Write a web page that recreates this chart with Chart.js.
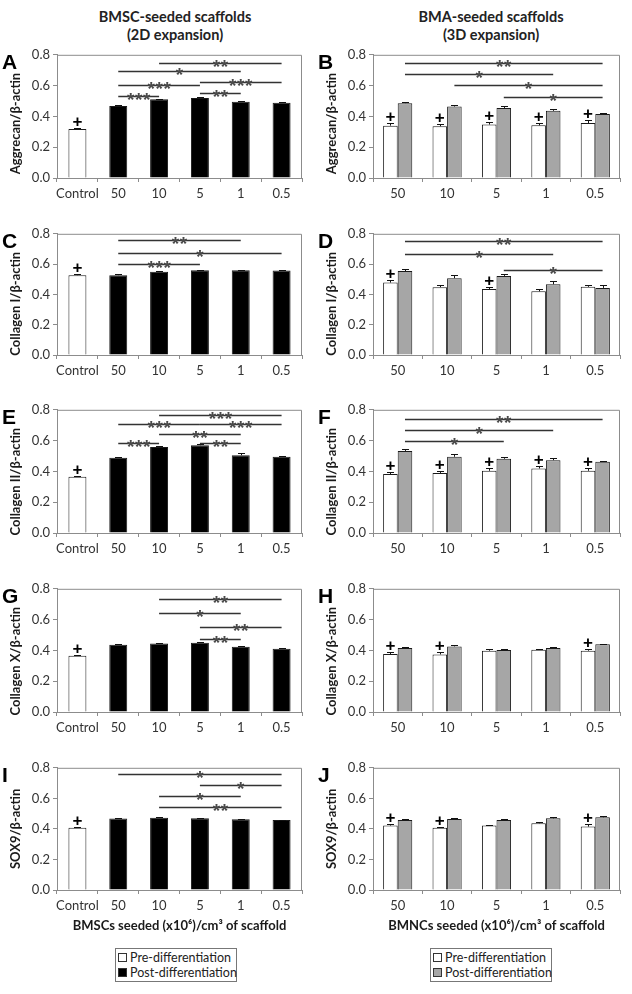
<!DOCTYPE html>
<html><head><meta charset="utf-8">
<script src="https://cdn.jsdelivr.net/npm/chart.js@4.4.0/dist/chart.umd.min.js"></script>
<style>
body{margin:0;background:#fff;width:632px;height:994px;position:relative;overflow:hidden;font-family:Lato,sans-serif;}
canvas{position:absolute;}
.ttl{position:absolute;font-weight:bold;font-size:14.5px;text-align:center;width:300px;color:#222;line-height:18px}
.lt{position:absolute;font:bold 21px "Liberation Sans",Arial,sans-serif;color:#000;line-height:21px}
.lg{position:absolute;border:1px solid #777;width:122px;height:34px;font-size:12.5px;color:#222;box-sizing:border-box}
.it{position:absolute;left:2px;white-space:nowrap;line-height:14px}
.sw{display:inline-block;width:7px;height:7px;border:1px solid #333;margin-right:3px;vertical-align:0px}
</style></head><body>
<div class="ttl" style="left:25px;top:8px">BMSC-seeded scaffolds<br>(2D expansion)</div>
<div class="ttl" style="left:341px;top:8px">BMA-seeded scaffolds<br>(3D expansion)</div>
<div class="lg" style="left:115px;top:948px"><div class="it" style="top:2px"><span class="sw" style="background:#fff"></span>Pre-differentiation</div><div class="it" style="top:17px"><span class="sw" style="background:#000"></span>Post-differentiation</div></div>
<div class="lg" style="left:430px;top:948px"><div class="it" style="top:2px"><span class="sw" style="background:#fff"></span>Pre-differentiation</div><div class="it" style="top:17px"><span class="sw" style="background:#a6a6a6"></span>Post-differentiation</div></div>
<script>
// ---------- data ----------
const catsLeft = ['Control', '50', '10', '5', '1', '0.5'];
const catsRight = ['50', '10', '5', '1', '0.5'];
const yTicks = [0, 0.2, 0.4, 0.6, 0.8];
const seriesNames = ['Pre-differentiation', 'Post-differentiation'];
const xTitleLeft = 'BMSCs seeded (x10\u2076)/cm\u00B3 of scaffold';
const xTitleRight = 'BMNCs seeded (x10\u2076)/cm\u00B3 of scaffold';

// A: Aggrecan, BMSC
const aPre = [0.318, null, null, null, null, null];
const aPreErr = [0.007, null, null, null, null, null];
const aPost = [null, 0.467, 0.512, 0.520, 0.495, 0.488];
const aPostErr = [null, 0.006, 0.003, 0.003, 0.004, 0.003];
const aPlus = [0];
const aSig = [[2, 5, 0.750, '**'], [1, 4, 0.692, '*'], [1, 3, 0.602, '***'], [3, 5, 0.624, '***'], [1, 2, 0.533, '***'], [3, 4, 0.555, '**']];
// B: Aggrecan, BMA
const bPre = [0.340, 0.336, 0.347, 0.342, 0.357];
const bPreErr = [0.018, 0.017, 0.015, 0.017, 0.018];
const bPost = [0.486, 0.464, 0.455, 0.436, 0.415];
const bPostErr = [0.007, 0.010, 0.012, 0.014, 0.010];
const bPlus = [0, 1, 2, 3, 4];
const bSig = [[0, 4, 0.749, '**'], [0, 3, 0.678, '*'], [1, 4, 0.603, '*'], [2, 4, 0.528, '*']];
// C: Collagen I, BMSC
const cPre = [0.527, null, null, null, null, null];
const cPreErr = [0.006, null, null, null, null, null];
const cPost = [null, 0.527, 0.550, 0.560, 0.560, 0.558];
const cPostErr = [null, 0.006, 0.005, 0.004, 0.004, 0.003];
const cPlus = [0];
const cSig = [[1, 4, 0.759, '**'], [1, 5, 0.676, '*'], [1, 3, 0.600, '***']];
// D: Collagen I, BMA
const dPre = [0.478, 0.448, 0.435, 0.420, 0.450];
const dPreErr = [0.015, 0.017, 0.017, 0.017, 0.011];
const dPost = [0.554, 0.507, 0.522, 0.467, 0.443];
const dPostErr = [0.013, 0.024, 0.015, 0.024, 0.020];
const dPlus = [0, 2];
const dSig = [[0, 4, 0.755, '**'], [0, 3, 0.665, '*'], [2, 4, 0.563, '*']];
// E: Collagen II, BMSC
const ePre = [0.366, null, null, null, null, null];
const ePreErr = [0.006, null, null, null, null, null];
const ePost = [null, 0.488, 0.559, 0.570, 0.505, 0.495];
const ePostErr = [null, 0.008, 0.005, 0.005, 0.012, 0.008];
const ePlus = [0];
const eSig = [[2, 5, 0.763, '***'], [1, 3, 0.705, '***'], [3, 5, 0.705, '***'], [2, 4, 0.641, '**'], [1, 2, 0.585, '***'], [3, 4, 0.585, '**']];
// F: Collagen II, BMA
const fPre = [0.383, 0.390, 0.404, 0.419, 0.404];
const fPreErr = [0.016, 0.014, 0.015, 0.015, 0.020];
const fPost = [0.533, 0.495, 0.482, 0.473, 0.462];
const fPostErr = [0.012, 0.015, 0.012, 0.012, 0.007];
const fPlus = [0, 1, 2, 3, 4];
const fSig = [[0, 4, 0.742, '**'], [0, 3, 0.671, '*'], [0, 2, 0.598, '*']];
// G: Collagen X, BMSC
const gPre = [0.366, null, null, null, null, null];
const gPreErr = [0.006, null, null, null, null, null];
const gPost = [null, 0.437, 0.445, 0.449, 0.424, 0.410];
const gPostErr = [null, 0.003, 0.003, 0.003, 0.004, 0.005];
const gPlus = [0];
const gSig = [[2, 5, 0.731, '**'], [2, 4, 0.641, '*'], [3, 5, 0.555, '**'], [3, 4, 0.473, '**']];
// H: Collagen X, BMA
const hPre = [0.376, 0.374, 0.398, 0.404, 0.398];
const hPreErr = [0.014, 0.013, 0.009, 0.008, 0.013];
const hPost = [0.415, 0.426, 0.402, 0.415, 0.440];
const hPostErr = [0.009, 0.007, 0.010, 0.010, 0.004];
const hPlus = [0, 1, 4];
const hSig = [];
// I: SOX9, BMSC
const iPre = [0.408, null, null, null, null, null];
const iPreErr = [0.005, null, null, null, null, null];
const iPost = [null, 0.468, 0.473, 0.470, 0.463, 0.458];
const iPostErr = [null, 0.003, 0.003, 0.003, 0.003, 0.003];
const iPlus = [0];
const iSig = [[1, 5, 0.757, '*'], [3, 5, 0.688, '*'], [2, 4, 0.616, '*'], [2, 5, 0.545, '**']];
// J: SOX9, BMA
const jPre = [0.422, 0.407, 0.422, 0.437, 0.415];
const jPreErr = [0.010, 0.008, 0.006, 0.007, 0.020];
const jPost = [0.458, 0.465, 0.458, 0.469, 0.476];
const jPostErr = [0.005, 0.005, 0.005, 0.006, 0.006];
const jPlus = [0, 1, 4];
const jSig = [];

const panels = [
  {L: 'A', col: 0, row: 0, yt: 'Aggrecan/\u03B2-actin', pre: aPre, preErr: aPreErr, post: aPost, postErr: aPostErr, plus: aPlus, sig: aSig},
  {L: 'B', col: 1, row: 0, yt: 'Aggrecan/\u03B2-actin', pre: bPre, preErr: bPreErr, post: bPost, postErr: bPostErr, plus: bPlus, sig: bSig},
  {L: 'C', col: 0, row: 1, yt: 'Collagen I/\u03B2-actin', pre: cPre, preErr: cPreErr, post: cPost, postErr: cPostErr, plus: cPlus, sig: cSig},
  {L: 'D', col: 1, row: 1, yt: 'Collagen I/\u03B2-actin', pre: dPre, preErr: dPreErr, post: dPost, postErr: dPostErr, plus: dPlus, sig: dSig},
  {L: 'E', col: 0, row: 2, yt: 'Collagen II/\u03B2-actin', pre: ePre, preErr: ePreErr, post: ePost, postErr: ePostErr, plus: ePlus, sig: eSig},
  {L: 'F', col: 1, row: 2, yt: 'Collagen II/\u03B2-actin', pre: fPre, preErr: fPreErr, post: fPost, postErr: fPostErr, plus: fPlus, sig: fSig},
  {L: 'G', col: 0, row: 3, yt: 'Collagen X/\u03B2-actin', pre: gPre, preErr: gPreErr, post: gPost, postErr: gPostErr, plus: gPlus, sig: gSig},
  {L: 'H', col: 1, row: 3, yt: 'Collagen X/\u03B2-actin', pre: hPre, preErr: hPreErr, post: hPost, postErr: hPostErr, plus: hPlus, sig: hSig},
  {L: 'I', col: 0, row: 4, yt: 'SOX9/\u03B2-actin', pre: iPre, preErr: iPreErr, post: iPost, postErr: iPostErr, plus: iPlus, sig: iSig},
  {L: 'J', col: 1, row: 4, yt: 'SOX9/\u03B2-actin', pre: jPre, preErr: jPreErr, post: jPost, postErr: jPostErr, plus: jPlus, sig: jSig}
];

// ---------- layout ----------
const plotTops = [54, 233, 409, 588, 767];
const plotHs = [124, 122, 124, 124, 123];
const TOPPAD = 10;
const YW = 57;
const AXIS_C = '#8c8c8c';
Chart.defaults.font.family = 'Lato';

const boxPlugin = {
  id: 'box',
  afterDraw(chart) {
    const {ctx, chartArea: a} = chart;
    ctx.save();
    ctx.strokeStyle = AXIS_C; ctx.lineWidth = 1;
    ctx.beginPath();
    ctx.moveTo(a.left, a.top + 0.5); ctx.lineTo(a.right - 0.5, a.top + 0.5); ctx.lineTo(a.right - 0.5, a.bottom);
    ctx.stroke();
    ctx.restore();
  }
};

// y-axis title: centred on the plot, but kept clear of the panel letter
const yTitlePlugin = {
  id: 'ytitle',
  afterDraw(chart, args, o) {
    const {ctx, chartArea: a} = chart;
    ctx.save();
    ctx.font = 'bold 13px Lato';
    ctx.fillStyle = '#1a1a1a';
    const w = ctx.measureText(o.text).width;
    let cy = (a.top + a.bottom) / 2;
    if (cy - w / 2 < a.top + 18) cy = a.top + 18 + w / 2;
    ctx.translate(20, cy);
    ctx.rotate(-Math.PI / 2);
    ctx.textAlign = 'center'; ctx.textBaseline = 'alphabetic';
    ctx.fillText(o.text, 0, 0);
    ctx.restore();
  }
};

const annotPlugin = {
  id: 'annot',
  afterDatasetsDraw(chart, args, o) {
    const {ctx} = chart;
    const ys = chart.scales.y;
    ctx.save();
    // error bars
    [[0, o.preErr], [1, o.postErr]].forEach(([d, errs]) => {
      const meta = chart.getDatasetMeta(d);
      const vals = chart.data.datasets[d].data;
      vals.forEach((v, i) => {
        if (v == null || errs[i] == null) return;
        const x = Math.round(meta.data[i].x) + 0.5;
        const y0 = ys.getPixelForValue(v);
        const y1 = Math.round(ys.getPixelForValue(v + errs[i])) + 0.5;
        ctx.strokeStyle = '#111'; ctx.lineWidth = 1;
        ctx.beginPath();
        ctx.moveTo(x, y0); ctx.lineTo(x, y1);
        ctx.moveTo(x - 3.5, y1); ctx.lineTo(x + 3.5, y1);
        ctx.stroke();
      });
    });
    // plus marks
    const m0 = chart.getDatasetMeta(0);
    ctx.fillStyle = '#000';
    ctx.font = 'bold 17px "Liberation Sans", Arial, sans-serif';
    ctx.textAlign = 'center'; ctx.textBaseline = 'alphabetic';
    o.plus.forEach(i => {
      const v = chart.data.datasets[0].data[i];
      const y = ys.getPixelForValue(v + (o.preErr[i] || 0));
      ctx.fillText('+', m0.data[i].x, y - 1);
    });
    // significance lines
    const m1 = chart.getDatasetMeta(1);
    o.sig.forEach(([a, b, v, s]) => {
      const x1 = m1.data[a].x, x2 = m1.data[b].x;
      const y = Math.round(ys.getPixelForValue(v)) + 0.5;
      ctx.strokeStyle = '#333'; ctx.lineWidth = 1.4;
      ctx.beginPath(); ctx.moveTo(x1, y); ctx.lineTo(x2, y); ctx.stroke();
      ctx.fillStyle = '#4a4a4a';
      ctx.font = 'bold 19px "Liberation Sans", Arial, sans-serif';
      const n = s.length, sp = 8, cx = (x1 + x2) / 2;
      for (let k = 0; k < n; k++) {
        ctx.fillText('*', cx + (k - (n - 1) / 2) * sp, y + 9);
      }
    });
    ctx.restore();
  }
};

panels.forEach(p => {
  const left = p.col === 0;
  const last = p.row === 4;
  const xH = last ? 46 : 30;
  const cv = document.createElement('canvas');
  const W = 316, H = TOPPAD + plotHs[p.row] + xH;
  cv.width = W; cv.height = H;
  cv.style.left = (left ? 0 : 316) + 'px';
  cv.style.top = (plotTops[p.row] - TOPPAD) + 'px';
  cv.style.width = W + 'px'; cv.style.height = H + 'px';
  document.body.appendChild(cv);
  const lt = document.createElement('div');
  lt.className = 'lt'; lt.textContent = p.L;
  lt.style.left = (left ? 2 : 318) + 'px';
  lt.style.top = (plotTops[p.row] - 3) + 'px';
  document.body.appendChild(lt);

  new Chart(cv, {
    type: 'bar',
    data: {
      labels: left ? catsLeft : catsRight,
      datasets: [
        {label: seriesNames[0], data: p.pre, backgroundColor: '#ffffff', borderColor: '#1a1a1a', borderWidth: 1, skipNull: true},
        {label: seriesNames[1], data: p.post, backgroundColor: left ? '#000000' : '#a6a6a6', borderColor: '#1a1a1a', borderWidth: 1, skipNull: true}
      ]
    },
    options: {
      responsive: false, animation: false, devicePixelRatio: 1,
      layout: {padding: {top: TOPPAD, left: 0, right: left ? 14 : 12, bottom: 0}},
      datasets: {bar: {categoryPercentage: left ? 0.44 : 0.59, barPercentage: 1, skipNull: true}},
      scales: {
        x: {
          grid: {display: true, drawOnChartArea: false, offset: true, tickLength: 4, color: AXIS_C},
          border: {color: AXIS_C, width: 1},
          ticks: {color: '#333', font: {size: 13}, padding: 4, maxRotation: 0, autoSkip: false},
          title: last ? {display: true, text: left ? xTitleLeft : xTitleRight, color: '#1a1a1a', font: {size: 13, weight: 'bold'}, padding: {top: 0, bottom: 2}} : {display: false},
          afterFit: s => { s.height = xH; }
        },
        y: {
          min: 0, max: 0.8,
          afterBuildTicks: s => { s.ticks = yTicks.map(v => ({value: v})); },
          grid: {display: true, drawOnChartArea: false, tickLength: 4, color: AXIS_C},
          border: {color: AXIS_C, width: 1},
          ticks: {color: '#333', font: {size: 13}, padding: 3, callback: v => Number(v).toFixed(1)},
          title: {display: false},
          afterFit: s => { s.width = YW; }
        }
      },
      plugins: {
        legend: {display: false}, tooltip: {enabled: false},
        annot: {preErr: p.preErr, postErr: p.postErr, plus: p.plus, sig: p.sig},
        ytitle: {text: p.yt}
      }
    },
    plugins: [boxPlugin, annotPlugin, yTitlePlugin]
  });
});
</script>
</body></html>
